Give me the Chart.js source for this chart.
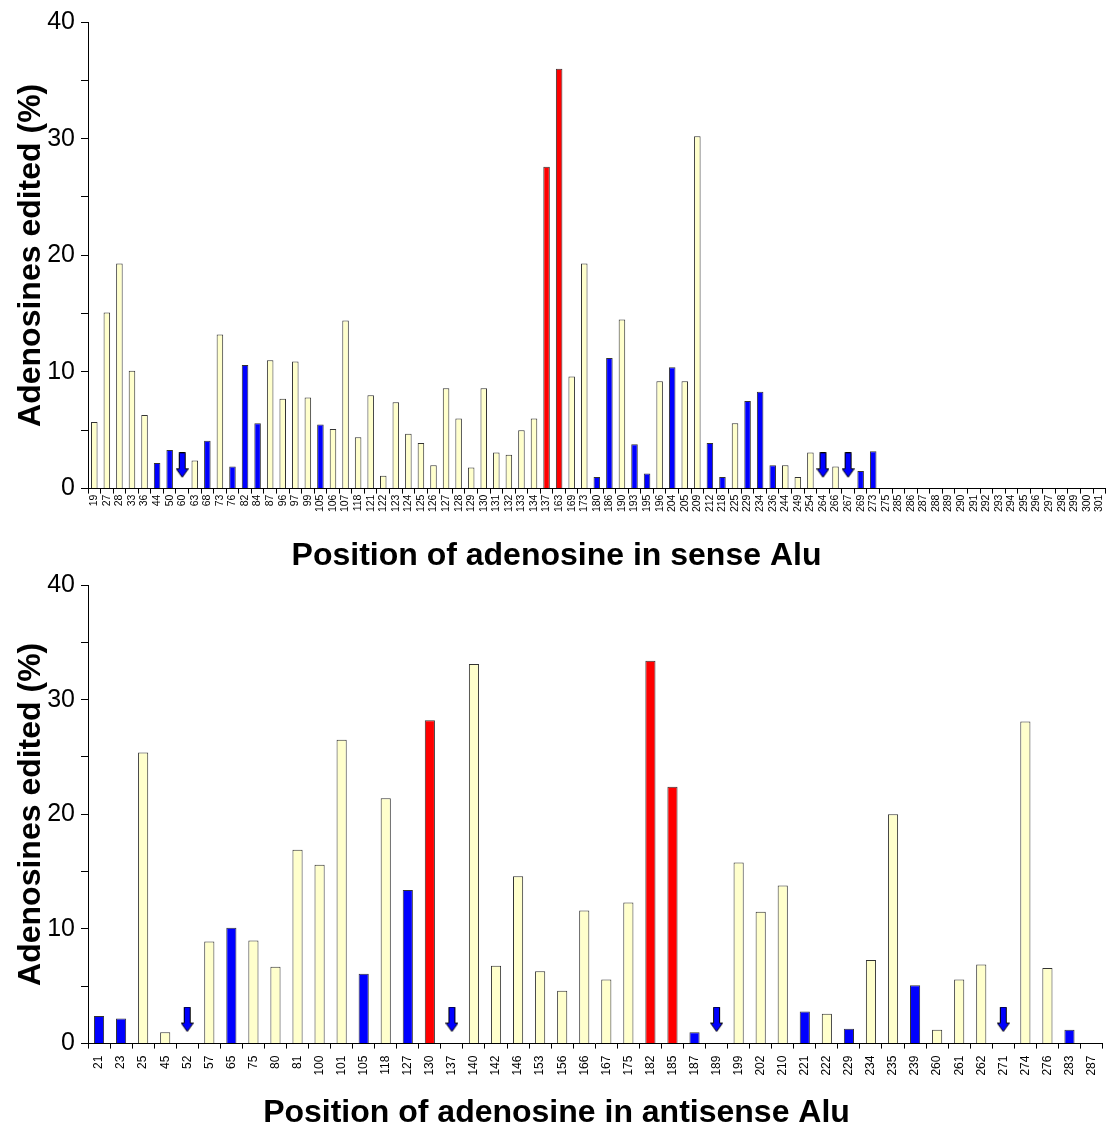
<!DOCTYPE html>
<html>
<head>
<meta charset="utf-8">
<script src="https://cdn.jsdelivr.net/npm/chart.js@4.4.0/dist/chart.umd.min.js"></script>
<style>
  html, body { margin: 0; padding: 0; background: #fff; overflow: hidden; }
  body { position: relative; width: 1109px; height: 1128px; }
  canvas { display: block; position: absolute; left: 0; }
  #sense { top: 0; }
  #antisense { top: 564px; }
</style>
</head>
<body>
<canvas id="sense" width="1113" height="575"></canvas>
<canvas id="antisense" width="1113" height="568"></canvas>
<script>
// --- sense Alu ---
const senseLabels = ["19","27","28","33","36","44","50","60","63","68","73","76","82","84","87","96","97","99","105","106",
  "107","118","121","122","123","124","125","126","127","128","129","130","131","132","133","134","137","163","169","173",
  "180","186","190","193","195","196","204","205","209","212","218","225","229","234","236","244","249","254","264","266",
  "267","269","273","275","285","286","287","288","289","290","291","292","293","294","295","296","297","298","299","300","301"]
const senseValues = [5.7,15.1,19.3,10.1,6.3,2.2,3.3,null,2.4,4.1,13.2,1.9,10.6,5.6,11.0,7.7,10.9,7.8,5.5,5.1,
  14.4,4.4,8.0,1.1,7.4,4.7,3.9,2.0,8.6,6.0,1.8,8.6,3.1,2.9,5.0,6.0,27.6,36.0,9.6,19.3,
  1.0,11.2,14.5,3.8,1.3,9.2,10.4,9.2,30.2,3.9,1.0,5.6,7.5,8.3,2.0,2.0,1.0,3.1,null,1.9,
  null,1.5,3.2,0,0,0,0,0,0,0,0,0,0,0,0,0,0,0,0,0,0]
const senseBlue  = ["44","50","68","76","82","84","105","180","186","193","195","204","212","218","229","234","236","269","273"]
const senseRed   = ["137","163"]
const senseArrow = ["60","264","267"]

// --- antisense Alu ---
const antiLabels = ["21","23","25","45","52","57","65","75","80","81","100","101","105","118","127","130","137","140","142","146",
  "153","156","166","167","175","182","185","187","189","199","202","210","221","222","229","234","235","239","260","261",
  "262","271","274","276","283","287"]
const antiValues = [2.4,2.2,25.4,1.0,null,8.9,10.1,9.0,6.7,16.9,15.6,26.5,6.1,21.4,13.4,28.2,null,33.1,6.8,14.6,
  6.3,4.6,11.6,5.6,12.3,33.4,22.4,1.0,null,15.8,11.5,13.8,2.8,2.6,1.3,7.3,20.0,5.1,1.2,5.6,
  6.9,null,28.1,6.6,1.2,0]
const antiBlue  = ["21","23","65","105","127","187","221","229","239","283"]
const antiRed   = ["130","182","185"]
const antiArrow = ["52","137","189","271"]

const yTicks = [0, 10, 20, 30, 40]

const FONT = "Arial, 'Liberation Sans', sans-serif"

// down-arrow marker (blue with black outline)
function makeArrow() {
  const c = document.createElement("canvas")
  c.width = 13; c.height = 26
  const g = c.getContext("2d")
  g.beginPath()
  g.moveTo(3.5, 0.5); g.lineTo(9.5, 0.5); g.lineTo(9.5, 16.5); g.lineTo(12.5, 16.5)
  g.lineTo(6.5, 25); g.lineTo(0.5, 16.5); g.lineTo(3.5, 16.5); g.closePath()
  g.fillStyle = "#0000FF"; g.fill()
  g.strokeStyle = "#000"; g.lineWidth = 1; g.stroke()
  return c
}
const arrowImg = makeArrow()

function colorFor(label, blue, red) {
  if (red.includes(label)) return "#FF0000"
  if (blue.includes(label)) return "#0000FF"
  return "#FFFFCC"
}

function build(id, labels, values, blue, red, arrows, opt) {
  const ctx = document.getElementById(id)
  new Chart(ctx, {
    data: {
      labels,
      datasets: [
        {
          type: "line",
          data: labels.map(l => arrows.includes(l) ? opt.arrowAt : null),
          showLine: false,
          pointStyle: arrowImg,
          pointRadius: 6,
          order: 0
        },
        {
          type: "bar",
          data: values,
          backgroundColor: labels.map(l => colorFor(l, blue, red)),
          borderColor: "#333",
          borderWidth: 1,
          borderSkipped: "bottom",
          barPercentage: opt.barPct,
          categoryPercentage: 1,
          order: 1
        }
      ]
    },
    options: {
      responsive: false,
      animation: false,
      layout: { padding: opt.padding },
      plugins: {
        legend:  { display: false },
        tooltip: { enabled: false },
        title: {
          display: true,
          position: "bottom",
          text: opt.xTitle,
          color: "#000",
          font: { family: FONT, size: 32, weight: "bold" },
          padding: { top: 0, bottom: 0 }
        }
      },
      scales: {
        x: {
          border: { color: "#000", width: 1 },
          grid:   { drawOnChartArea: false, drawTicks: true, tickLength: 5, color: "#000", offset: true },
          ticks:  { autoSkip: false, minRotation: 90, maxRotation: 90, padding: opt.xPad, color: "#000",
                    font: { family: FONT, size: opt.xFont } },
          afterFit: s => { s.height = opt.xHeight }
        },
        y: {
          min: 0, max: 40,
          border: { color: "#000", width: 1 },
          grid:   { drawOnChartArea: false, drawTicks: true, tickLength: 7, color: "#000" },
          ticks:  { stepSize: 5, padding: 6, color: "#000", font: { family: FONT, size: 25 },
                    callback: v => yTicks.includes(v) ? v : "" },
          title:  { display: true, text: "Adenosines edited (%)", color: "#000",
                    font: { family: FONT, size: 32, weight: "bold" }, padding: { top: 12, bottom: 0 } },
          afterFit: s => { s.width = 88 }
        }
      }
    }
  })
}

build("sense", senseLabels, senseValues, senseBlue, senseRed, senseArrow, {
  xTitle: "Position of adenosine in sense Alu", barPct: 0.52, xFont: 10.5, xPad: 1, xHeight: 48,
  arrowAt: 2.0, padding: { top: 22, right: 0, left: 0, bottom: 0 }
})
build("antisense", antiLabels, antiValues, antiBlue, antiRed, antiArrow, {
  xTitle: "Position of adenosine in antisense Alu", barPct: 0.46, xFont: 12, xPad: 7, xHeight: 50,
  arrowAt: 2.1, padding: { top: 20, right: 0, left: 0, bottom: 0 }
})
</script>
</body>
</html>
